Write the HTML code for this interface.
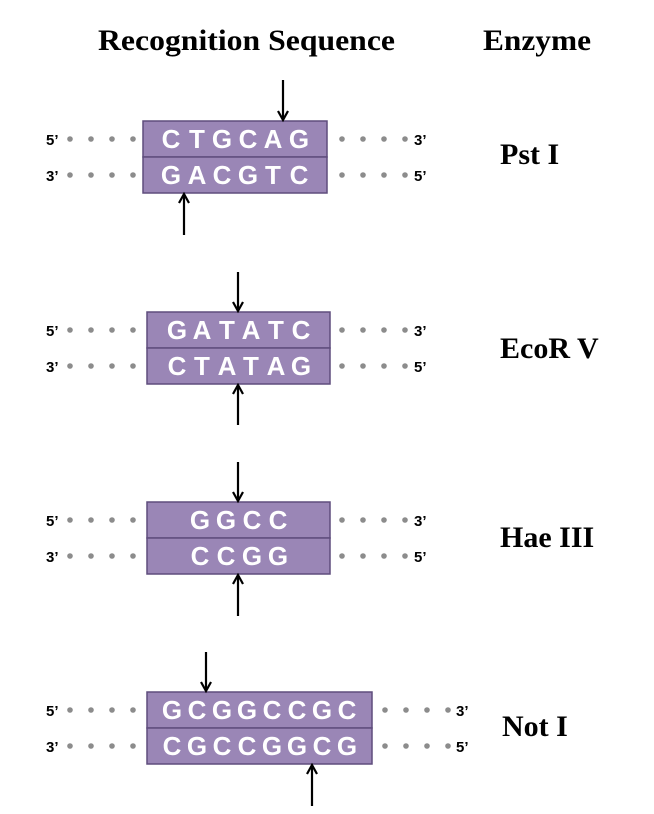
<!DOCTYPE html>
<html><head><meta charset="utf-8"><style>
html,body{margin:0;padding:0;background:#fff;}
svg{display:block}
.h{font-family:"Liberation Serif",serif;font-weight:bold;font-size:30px;fill:#000}
.e{font-family:"Liberation Serif",serif;font-weight:bold;font-size:30px;fill:#000}
.p{font-family:"Liberation Sans",sans-serif;font-weight:bold;font-size:15px;fill:#000}
.s{font-family:"Liberation Sans",sans-serif;font-weight:bold;font-size:26px;fill:#fff;text-anchor:middle}
.b{fill:#9a86b6;stroke:#5f4d7d;stroke-width:1.5}
.d{fill:#8c8c8c}
.a{stroke:#000;stroke-width:2.2;fill:none}
</style></head><body>
<svg width="654" height="814" viewBox="0 0 654 814" xmlns="http://www.w3.org/2000/svg">
<defs>
<g id="ld"><circle cx="70" cy="0" r="2.8" class="d"/><circle cx="91" cy="0" r="2.8" class="d"/><circle cx="112" cy="0" r="2.8" class="d"/><circle cx="133" cy="0" r="2.8" class="d"/></g>
<g id="rd"><circle cx="0" cy="0" r="2.8" class="d"/><circle cx="21" cy="0" r="2.8" class="d"/><circle cx="42" cy="0" r="2.8" class="d"/><circle cx="63" cy="0" r="2.8" class="d"/></g>
<path id="dn" d="M-5,-9 L0,0 L5,-9" class="a"/>
<path id="up" d="M-5,9 L0,0 L5,9" class="a"/>
</defs>

<text x="98" y="50" class="h" textLength="297" lengthAdjust="spacingAndGlyphs">Recognition Sequence</text>
<text x="483" y="50" class="h" textLength="108" lengthAdjust="spacingAndGlyphs">Enzyme</text>

<!-- Pst I -->
<rect x="143" y="121" width="184" height="36" class="b"/>
<rect x="143" y="157" width="184" height="36" class="b"/>
<text y="148" class="s" x="171 197 222 248 273 299">CTGCAG</text>
<text y="184" class="s" x="171 197 222 248 273 299">GACGTC</text>
<text x="46" y="145" class="p">5’</text><use href="#ld" y="139"/><use href="#rd" x="342" y="139"/><text x="414" y="145" class="p">3’</text>
<text x="46" y="181" class="p">3’</text><use href="#ld" y="175"/><use href="#rd" x="342" y="175"/><text x="414" y="181" class="p">5’</text>
<line x1="283" y1="80" x2="283" y2="119" class="a"/><use href="#dn" x="283" y="120"/>
<line x1="184" y1="235" x2="184" y2="195" class="a"/><use href="#up" x="184" y="194"/>
<text x="500" y="164" class="e">Pst I</text>

<!-- EcoR V -->
<rect x="147" y="312" width="183" height="36" class="b"/>
<rect x="147" y="348" width="183" height="36" class="b"/>
<text y="339" class="s" x="177 202 227 251 276 301">GATATC</text>
<text y="375" class="s" x="177 202 227 251 276 301">CTATAG</text>
<text x="46" y="336" class="p">5’</text><use href="#ld" y="330"/><use href="#rd" x="342" y="330"/><text x="414" y="336" class="p">3’</text>
<text x="46" y="372" class="p">3’</text><use href="#ld" y="366"/><use href="#rd" x="342" y="366"/><text x="414" y="372" class="p">5’</text>
<line x1="238" y1="272" x2="238" y2="310" class="a"/><use href="#dn" x="238" y="311"/>
<line x1="238" y1="425" x2="238" y2="386" class="a"/><use href="#up" x="238" y="385"/>
<text x="500" y="358" class="e">EcoR V</text>

<!-- Hae III -->
<rect x="147" y="502" width="183" height="36" class="b"/>
<rect x="147" y="538" width="183" height="36" class="b"/>
<text y="529" class="s" x="200 226 252 278">GGCC</text>
<text y="565" class="s" x="200 226 252 278">CCGG</text>
<text x="46" y="526" class="p">5’</text><use href="#ld" y="520"/><use href="#rd" x="342" y="520"/><text x="414" y="526" class="p">3’</text>
<text x="46" y="562" class="p">3’</text><use href="#ld" y="556"/><use href="#rd" x="342" y="556"/><text x="414" y="562" class="p">5’</text>
<line x1="238" y1="462" x2="238" y2="500" class="a"/><use href="#dn" x="238" y="501"/>
<line x1="238" y1="616" x2="238" y2="576" class="a"/><use href="#up" x="238" y="575"/>
<text x="500" y="547" class="e">Hae III</text>

<!-- Not I -->
<rect x="147" y="692" width="225" height="36" class="b"/>
<rect x="147" y="728" width="225" height="36" class="b"/>
<text y="719" class="s" x="172 197 222 247 272 297 322 347">GCGGCCGC</text>
<text y="755" class="s" x="172 197 222 247 272 297 322 347">CGCCGGCG</text>
<text x="46" y="716" class="p">5’</text><use href="#ld" y="710"/><use href="#rd" x="385" y="710"/><text x="456" y="716" class="p">3’</text>
<text x="46" y="752" class="p">3’</text><use href="#ld" y="746"/><use href="#rd" x="385" y="746"/><text x="456" y="752" class="p">5’</text>
<line x1="206" y1="652" x2="206" y2="690" class="a"/><use href="#dn" x="206" y="691"/>
<line x1="312" y1="806" x2="312" y2="766" class="a"/><use href="#up" x="312" y="765"/>
<text x="502" y="736" class="e">Not I</text>
</svg>
</body></html>
